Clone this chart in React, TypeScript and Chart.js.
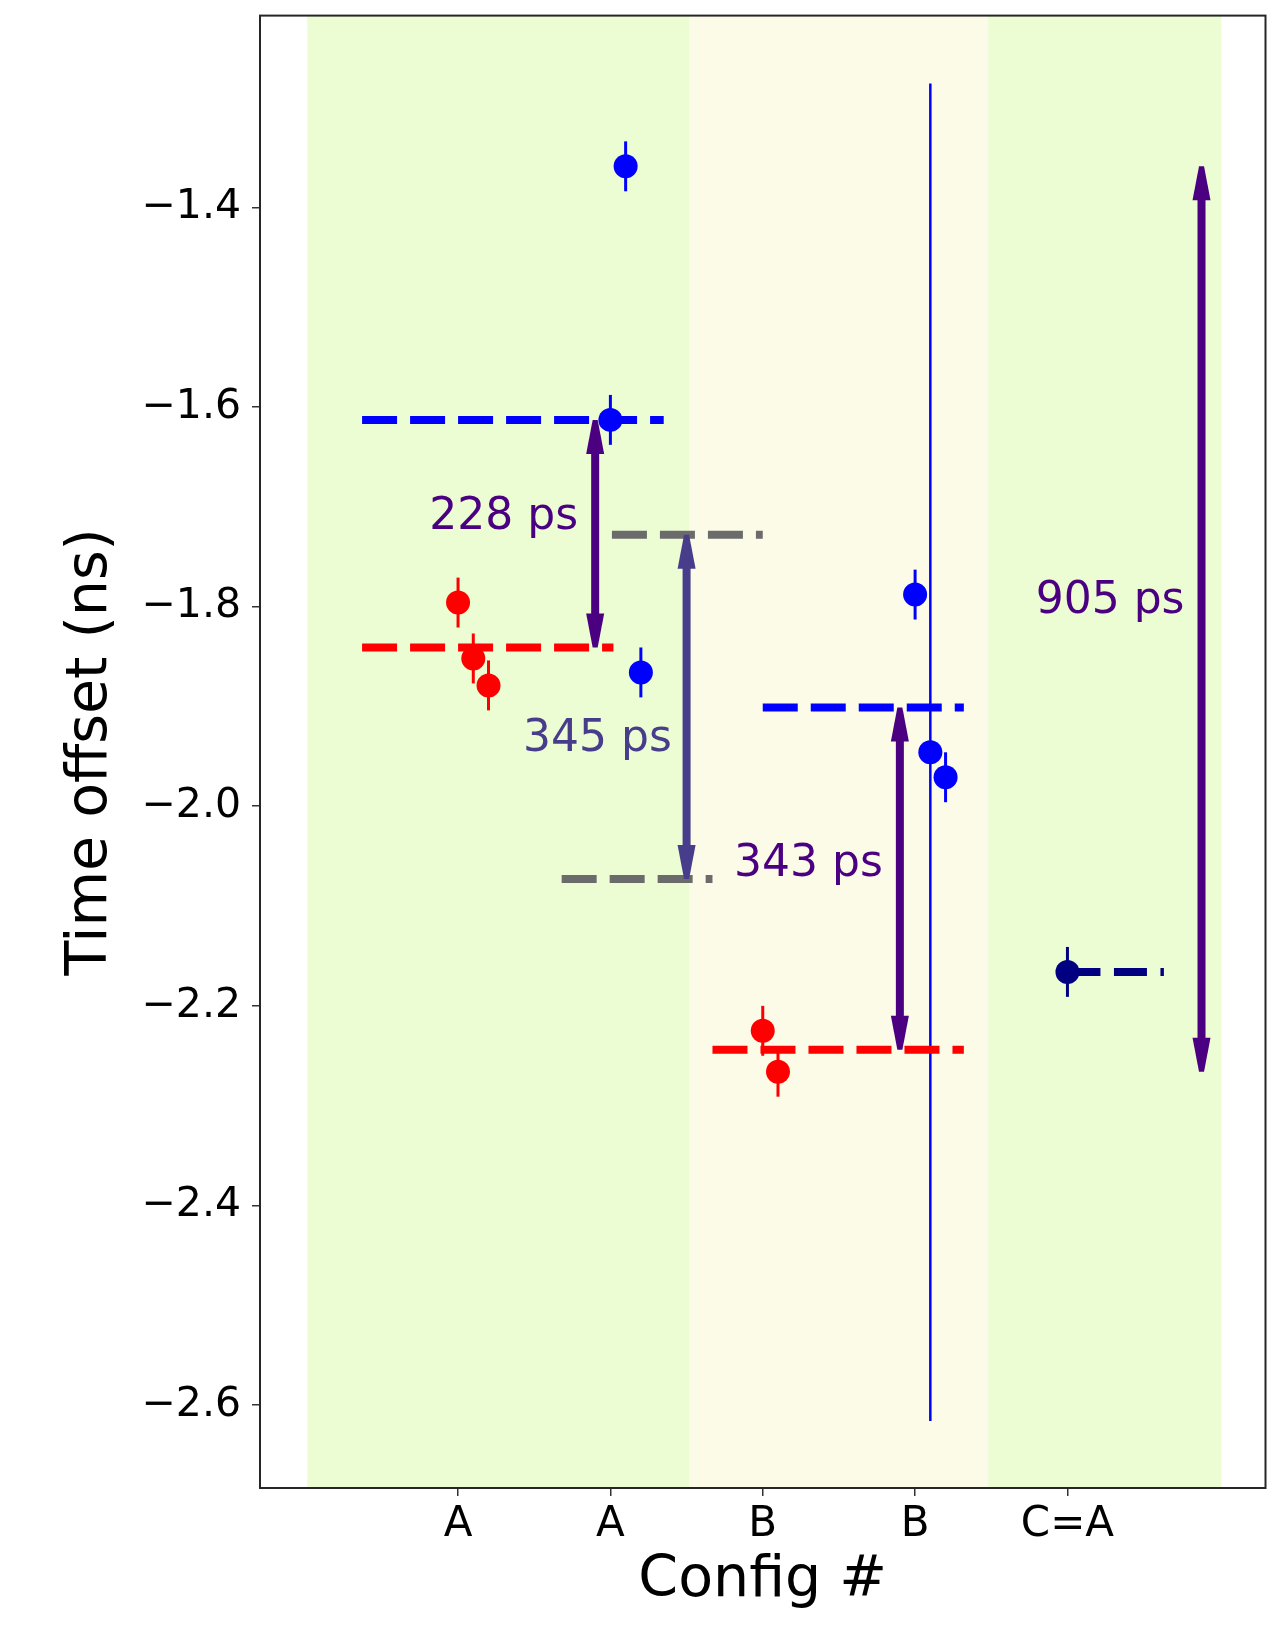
import React, { useEffect, useRef } from 'react';
import { Chart, registerables } from 'chart.js';
Chart.register(...registerables);

// ---- data ----
const configLabels = ['A', 'A', 'B', 'B', 'C=A'];
const configPositions = [0, 1, 2, 3, 4];
const yTickValues = [-2.6, -2.4, -2.2, -2.0, -1.8, -1.6, -1.4];

const redX = [0.0, 0.1, 0.2, 2.0, 2.1];
const redY = [-1.796, -1.852, -1.879, -2.225, -2.266];
const redErr = [0.025, 0.025, 0.025, 0.025, 0.025];

const blueX = [1.1, 1.0, 1.2, 3.0, 3.1, 3.2];
const blueY = [-1.359, -1.613, -1.866, -1.788, -1.946, -1.971];
const blueErr = [0.025, 0.025, 0.025, 0.025, 0.67, 0.025];

const navyX = [4.0];
const navyY = [-2.166];
const navyErr = [0.025];

// mean levels (dashed): start x, end x, value
const blueLevelA = [-0.63, 1.35, -1.613];
const redLevelA = [-0.63, 1.02, -1.841];
const grayLevelUpper = [1.01, 2.0, -1.728];
const grayLevelLower = [0.68, 1.67, -2.073];
const blueLevelB = [2.0, 3.32, -1.901];
const redLevelB = [1.67, 3.32, -2.244];
const navyLevelC = [4.0, 4.633, -2.166];

// difference arrows
const arrowX = [0.9, 1.5, 2.9, 4.88];
const arrowFrom = [-1.613, -1.728, -1.901, -1.359];
const arrowTo = [-1.841, -2.073, -2.244, -2.266];
const arrowLabels = ['228 ps', '345 ps', '343 ps', '905 ps'];
const arrowLabelX = [0.30, 0.915, 2.30, 4.28];
const arrowLabelY = [-1.711, -1.933, -2.058, -1.795];

// shaded config regions
const spanStart = [-0.99, 1.52, 3.48];
const spanEnd = [1.52, 3.48, 5.01];

const X_MIN = -1.3;
const X_MAX = 5.3;
const Y_MIN = -2.683;
const Y_MAX = -1.208;

// ---- styles ----
const RED = '#ff0000';
const BLUE = '#0000ff';
const NAVY = '#000080';
const GRAY = '#6b6b6b';
const INDIGO = '#4b0082';
const SLATE = '#483d8b';
const SPAN_COLORS = ['#ecfcd3', '#fcfbe8', '#ecfcd3'];
const ARROW_COLORS = [INDIGO, SLATE, INDIGO, INDIGO];
const FONT = '"DejaVu Sans", "Liberation Sans", sans-serif';

const pts = (xs: number[], ys: number[]) => xs.map((x, i) => ({ x, y: ys[i] }));

function levelDataset(level: number[], color: string, dash: number[] = [35, 13]) {
  return {
    type: 'line' as const,
    data: [{ x: level[0], y: level[2] }, { x: level[1], y: level[2] }],
    borderColor: color,
    borderWidth: 8,
    borderDash: dash,
    borderCapStyle: 'butt' as const,
    pointRadius: 0,
    pointHoverRadius: 0,
    showLine: true,
    fill: false,
  };
}

function pointDataset(xs: number[], ys: number[], color: string) {
  return {
    type: 'scatter' as const,
    data: pts(xs, ys),
    pointRadius: 12,
    pointHoverRadius: 12,
    backgroundColor: color,
    borderColor: color,
    borderWidth: 0,
    showLine: false,
  };
}

function drawArrow(ctx: CanvasRenderingContext2D, px: number, p1: number, p2: number, color: string) {
  const head = 34;
  const tipHalf = 2.5;
  const baseHalf = 9;
  const dir = Math.sign(p2 - p1);
  ctx.strokeStyle = color;
  ctx.fillStyle = color;
  ctx.lineWidth = 8;
  ctx.lineCap = 'butt';
  ctx.beginPath();
  ctx.moveTo(px, p1 + dir * head * 0.9);
  ctx.lineTo(px, p2 - dir * head * 0.9);
  ctx.stroke();
  const headAt = (tip: number, d: number) => {
    ctx.beginPath();
    ctx.moveTo(px - tipHalf, tip);
    ctx.lineTo(px + tipHalf, tip);
    ctx.lineTo(px + baseHalf, tip + d * head);
    ctx.lineTo(px - baseHalf, tip + d * head);
    ctx.closePath();
    ctx.fill();
  };
  headAt(p1, dir);
  headAt(p2, -dir);
}

const overlayPlugin = {
  id: 'overlay',
  beforeDatasetsDraw(chart: any) {
    const { ctx, chartArea: a, scales } = chart;
    const x = scales.x;
    const y = scales.y;
    ctx.save();
    spanStart.forEach((s, i) => {
      const x0 = x.getPixelForValue(s);
      const x1 = x.getPixelForValue(spanEnd[i]);
      ctx.fillStyle = SPAN_COLORS[i];
      ctx.fillRect(x0, a.top, x1 - x0, a.bottom - a.top);
    });
    const bars = (xs: number[], ys: number[], es: number[], color: string) => {
      ctx.strokeStyle = color;
      xs.forEach((xv, i) => {
        const px = x.getPixelForValue(xv);
        ctx.lineWidth = es[i] > 0.1 ? 2.5 : 3;
        ctx.beginPath();
        ctx.moveTo(px, y.getPixelForValue(ys[i] - es[i]));
        ctx.lineTo(px, y.getPixelForValue(ys[i] + es[i]));
        ctx.stroke();
      });
    };
    bars(redX, redY, redErr, RED);
    bars(blueX, blueY, blueErr, BLUE);
    bars(navyX, navyY, navyErr, NAVY);
    ctx.restore();
  },
  afterDatasetsDraw(chart: any) {
    const { ctx, scales } = chart;
    const x = scales.x;
    const y = scales.y;
    ctx.save();
    arrowX.forEach((xv, i) => {
      drawArrow(ctx, x.getPixelForValue(xv), y.getPixelForValue(arrowFrom[i]), y.getPixelForValue(arrowTo[i]), ARROW_COLORS[i]);
    });
    ctx.font = `44px ${FONT}`;
    ctx.textAlign = 'center';
    ctx.textBaseline = 'middle';
    arrowLabels.forEach((t, i) => {
      ctx.fillStyle = ARROW_COLORS[i];
      ctx.fillText(t, x.getPixelForValue(arrowLabelX[i]), y.getPixelForValue(arrowLabelY[i]));
    });
    ctx.restore();
  },
  afterDraw(chart: any) {
    const { ctx, chartArea: a } = chart;
    ctx.save();
    ctx.strokeStyle = '#262626';
    ctx.lineWidth = 2;
    ctx.strokeRect(a.left, a.top, a.right - a.left, a.bottom - a.top);
    ctx.restore();
  },
};

export default function App() {
  const ref = useRef<HTMLCanvasElement>(null);
  useEffect(() => {
    document.body.style.margin = '0';
    const canvas = ref.current!;
    const chart = new Chart(canvas, {
      type: 'scatter',
      data: {
        datasets: [
          pointDataset(navyX, navyY, NAVY),
          pointDataset(blueX, blueY, BLUE),
          pointDataset(redX, redY, RED),
          levelDataset(navyLevelC, NAVY, [33, 13.5]),
          levelDataset(blueLevelA, BLUE),
          levelDataset(redLevelA, RED),
          levelDataset(grayLevelUpper, GRAY),
          levelDataset(grayLevelLower, GRAY),
          levelDataset(blueLevelB, BLUE),
          levelDataset(redLevelB, RED),
        ] as any,
      },
      options: {
        animation: false,
        responsive: false,
        devicePixelRatio: 1,
        events: [],
        layout: { padding: { left: 0, right: 15.5, top: 15.6, bottom: 0 } },
        plugins: { legend: { display: false }, tooltip: { enabled: false } },
        scales: {
          x: {
            type: 'linear',
            min: X_MIN,
            max: X_MAX,
            bounds: 'data',
            afterBuildTicks: (s: any) => {
              s.ticks = configPositions.map((v) => ({ value: v }));
            },
            afterFit: (s: any) => {
              s.height = 141;
              s.paddingLeft = 0;
              s.paddingRight = 0;
            },
            ticks: {
              callback: (_v: any, i: number) => configLabels[i],
              font: { family: FONT, size: 42 },
              color: '#000',
              padding: 4,
              maxRotation: 0,
              autoSkip: false,
            },
            grid: { display: true, drawOnChartArea: false, drawTicks: true, tickLength: 8, color: '#333', lineWidth: 1.5 },
            border: { display: false },
            title: { display: true, text: 'Config #', font: { family: FONT, size: 57 }, color: '#000', padding: { top: 0, bottom: 13.5 } },
          },
          y: {
            type: 'linear',
            min: Y_MIN,
            max: Y_MAX,
            bounds: 'data',
            afterBuildTicks: (s: any) => {
              s.ticks = yTickValues.map((v) => ({ value: v }));
            },
            afterFit: (s: any) => {
              s.width = 260;
              s.paddingTop = 0;
              s.paddingBottom = 0;
            },
            ticks: {
              callback: (v: any) => (v < 0 ? '\u2212' : '') + Math.abs(Number(v)).toFixed(1),
              font: { family: FONT, size: 41 },
              color: '#000',
              padding: 11,
              autoSkip: false,
            },
            grid: { display: true, drawOnChartArea: false, drawTicks: true, tickLength: 8, color: '#333', lineWidth: 1.5 },
            border: { display: false },
            title: { display: true, text: 'Time offset (ns)', font: { family: FONT, size: 57 }, color: '#000', padding: { top: 57, bottom: 0 } },
          },
        },
      },
      plugins: [overlayPlugin],
    } as any);
    return () => chart.destroy();
  }, []);
  return (
    <div style={{ position: 'absolute', left: 0, top: 0, width: 1281, height: 1629 }}>
      <canvas ref={ref} width={1281} height={1629} style={{ width: '1281px', height: '1629px', display: 'block' }} />
    </div>
  );
}
